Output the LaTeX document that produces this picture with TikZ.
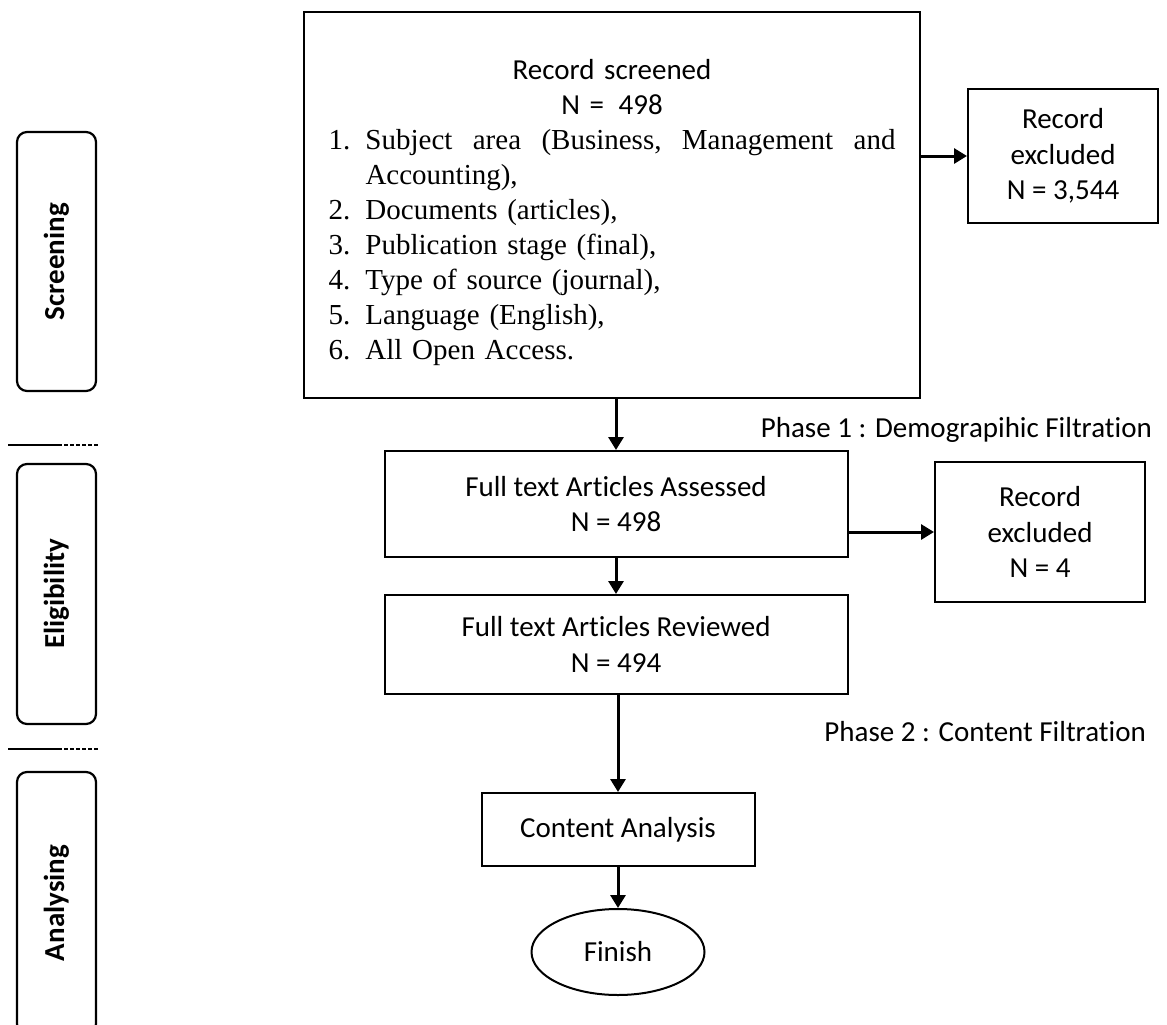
\documentclass[tikz,border=0pt]{standalone}
\usepackage{fontspec}
\setmainfont{Liberation Serif}
\newfontfamily\calibri[Ligatures=NoCommon]{Carlito}
\usetikzlibrary{arrows.meta,shapes.geometric}

% one numbered line of the screening criteria
\newcommand{\critline}[2]{\makebox[567pt][l]{\makebox[37pt][l]{#1}#2}}

\begin{document}
\begin{tikzpicture}[x=1pt, y=-1pt,
    box/.style={draw, rectangle, line width=2pt, inner sep=0pt, align=center,
                font=\calibri\fontsize{29}{35.5}\selectfont},
    phasebox/.style={draw, line width=2.2pt, rounded corners=10pt, inner sep=0pt,
                rotate=90, minimum height=79pt, font=\calibri\bfseries\fontsize{29}{35}\selectfont},
    phasetext/.style={anchor=east, inner sep=0pt, font=\calibri\fontsize{29}{35}\selectfont},
    flow/.style={line width=3pt, -{Triangle[length=13pt,width=15pt]}},
    sep/.style={line width=1.8pt}]
        \useasboundingbox (0,0) rectangle (1167,1025);

        % Stages down the left side
        \node[phasebox, minimum width=259pt] (screening)   at (56.5,261.5) {Screening};
        \node[phasebox, minimum width=260pt] (eligibility) at (56.5,594)   {Eligibility};
        \node[phasebox, minimum width=262pt] (analysing)   at (56.5,903)   {Analysing};

        % Separators between the stages
        \draw[sep] (8,445) -- (58,445);
        \draw[sep, dash pattern=on 4pt off 2pt] (58,445) -- (98,445);
        \draw[sep] (8,749) -- (58,749);
        \draw[sep, dash pattern=on 4pt off 2pt] (58,749) -- (98,749);

        % Screening box with its criteria
        \node[box, minimum width=616pt, minimum height=386pt] (screened) at (612,205) {};
        \node[align=center, inner sep=0pt, text width=567pt,
              font=\rmfamily\fontsize{29}{35}\selectfont] (criteria) at (612,213) {%
            {\calibri Record screened\\N = \,498}\\
            \critline{1.}{\makebox[530pt][l]{Subject \hfill area \hfill (Business, \hfill Management \hfill and}}\\
            \critline{}{Accounting),}\\
            \critline{2.}{Documents (articles),}\\
            \critline{3.}{Publication stage (final),}\\
            \critline{4.}{Type of source (journal),}\\
            \critline{5.}{Language (English),}\\
            \critline{6.}{All Open Access.}};
        \node[box, minimum width=190pt, minimum height=134pt] (excludedA) at (1063,156) {Record\\excluded\\N = 3,544};

        % Main flow
        \node[box, minimum width=463pt, minimum height=106pt] (assessed) at (616,504)   {Full text Articles Assessed\\N = 498};
        \node[box, minimum width=210pt, minimum height=140pt] (excludedB) at (1040,532) {Record\\excluded\\N = 4};
        \node[box, minimum width=463pt, minimum height=99pt]  (reviewed) at (616,644.5) {Full text Articles Reviewed\\N = 494};
        \node[box, minimum width=273pt, minimum height=73pt]  (analysis) at (618,829.5) {Content Analysis};
        \node[box, ellipse, minimum width=173pt, minimum height=86pt] (finish) at (618,952) {Finish};

        % Phase labels
        \node[phasetext] (phaseA) at (1152,430) {Phase 1 : Demograpihic Filtration};
        \node[phasetext] (phaseB) at (1146,732) {Phase 2 : Content Filtration};

        % Arrows
        \draw[flow] (assessed.north |- screened.south) -- (assessed);
        \draw[flow] (screened.east |- excludedA.west) -- (excludedA);
        \draw[flow] (assessed.east |- excludedB.west) -- (excludedB);
        \draw[flow] (assessed) -- (reviewed);
        \draw[flow] (reviewed.south -| analysis.north) -- (analysis);
        \draw[flow] (analysis) -- (finish);
    \end{tikzpicture}
\end{document}
